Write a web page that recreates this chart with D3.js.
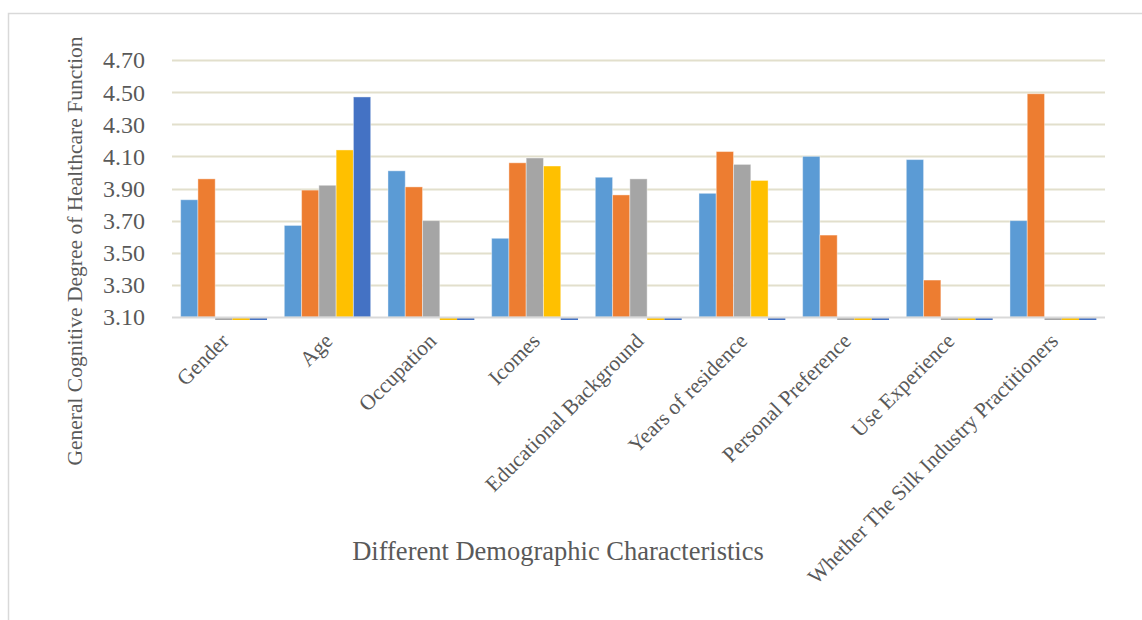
<!DOCTYPE html>
<html>
<head>
<meta charset="utf-8">
<script src="https://cdn.jsdelivr.net/npm/d3@7"></script>
<style>
  body { margin: 0; background: #fff; }
  text { font-family: "Liberation Serif", "Times New Roman", serif; fill: #595959; }
</style>
</head>
<body>
<div id="chart"></div>
<script>
var categories = ["Gender", "Age", "Occupation", "Icomes", "Educational Background",
  "Years of residence", "Personal Preference", "Use Experience",
  "Whether The Silk Industry Practitioners"];
// five series per category, 0 = no value (drawn as a sliver under the axis)
var series1 = [3.83, 3.67, 4.01, 3.59, 3.97, 3.87, 4.10, 4.08, 3.70];
var series2 = [3.96, 3.89, 3.91, 4.06, 3.86, 4.13, 3.61, 3.33, 4.49];
var series3 = [0, 3.92, 3.70, 4.09, 3.96, 4.05, 0, 0, 0];
var series4 = [0, 4.14, 0, 4.04, 0, 3.95, 0, 0, 0];
var series5 = [0, 4.47, 0, 0, 0, 0, 0, 0, 0];
var yTicks = [3.10, 3.30, 3.50, 3.70, 3.90, 4.10, 4.30, 4.50, 4.70];
var colors = ["#5B9BD5", "#ED7D31", "#A5A5A5", "#FFC000", "#4472C4"];

var allSeries = [series1, series2, series3, series4, series5];
var width = 1142, height = 620;
var plotLeft = 172, plotRight = 1105, plotTop = 60, plotBottom = 317;

var svg = d3.select("#chart").append("svg")
  .attr("width", width)
  .attr("height", height);

// chart frame
svg.append("rect")
  .attr("x", 8.5).attr("y", 13.5)
  .attr("width", 1200).attr("height", 700)
  .attr("fill", "none")
  .attr("stroke", "#d9d9d9")
  .attr("stroke-width", 1.5);

var x0 = d3.scaleBand().domain(categories).range([plotLeft, plotRight]).paddingInner(0);
var x1 = d3.scaleBand().domain(d3.range(5)).range([0, x0.bandwidth()])
  .paddingInner(0).paddingOuter(0.5);
var y = d3.scaleLinear().domain([3.10, 4.70]).range([plotBottom, plotTop]);

// gridlines
svg.append("g").selectAll("line")
  .data(yTicks.slice(1))
  .enter().append("line")
  .attr("x1", plotLeft).attr("x2", plotRight)
  .attr("y1", function (d) { return Math.round(y(d)) + 0.5; })
  .attr("y2", function (d) { return Math.round(y(d)) + 0.5; })
  .attr("stroke", "#e2dfcc")
  .attr("stroke-width", 2);

// y tick labels
svg.append("g").selectAll("text")
  .data(yTicks)
  .enter().append("text")
  .attr("x", 145)
  .attr("y", function (d) { return y(d); })
  .attr("dy", "0.35em")
  .attr("text-anchor", "end")
  .style("font-size", "24px")
  .text(function (d) { return d.toFixed(2); });

// bars
var groups = svg.append("g").selectAll("g")
  .data(categories)
  .enter().append("g")
  .attr("transform", function (d) { return "translate(" + x0(d) + ",0)"; });

groups.selectAll("rect")
  .data(function (d, i) {
    return allSeries.map(function (s, k) { return {k: k, value: s[i]}; });
  })
  .enter().append("rect")
  .attr("x", function (d) { return x1(d.k); })
  .attr("width", x1.bandwidth())
  .attr("y", function (d) { return d.value > 3.10 ? y(d.value) : plotBottom + 1; })
  .attr("height", function (d) { return d.value > 3.10 ? plotBottom - y(d.value) : 2; })
  .attr("fill", function (d) { return colors[d.k]; })
  .attr("stroke", function (d) { return d.value > 3.10 ? "rgba(255,255,255,0.4)" : "none"; })
  .attr("stroke-width", 1);

// axis line
svg.append("line")
  .attr("x1", plotLeft).attr("x2", plotRight)
  .attr("y1", plotBottom + 0.5).attr("y2", plotBottom + 0.5)
  .attr("stroke", "#d9d9d9")
  .attr("stroke-width", 2);

// category labels
svg.append("g").selectAll("text")
  .data(categories)
  .enter().append("text")
  .attr("transform", function (d) {
    return "translate(" + (x0(d) + x0.bandwidth() / 2 + 1) + "," + (plotBottom + 20) + ") rotate(-45)";
  })
  .attr("text-anchor", "end")
  .attr("dy", "0.35em")
  .style("font-size", "21.5px")
  .text(function (d) { return d; });

// axis titles
svg.append("text")
  .attr("transform", "translate(82,251) rotate(-90)")
  .attr("text-anchor", "middle")
  .style("font-size", "21.5px")
  .text("General Cognitive Degree of Healthcare Function");

svg.append("text")
  .attr("x", 558)
  .attr("y", 560)
  .attr("text-anchor", "middle")
  .style("font-size", "26.5px")
  .text("Different Demographic Characteristics");
</script>
</body>
</html>
